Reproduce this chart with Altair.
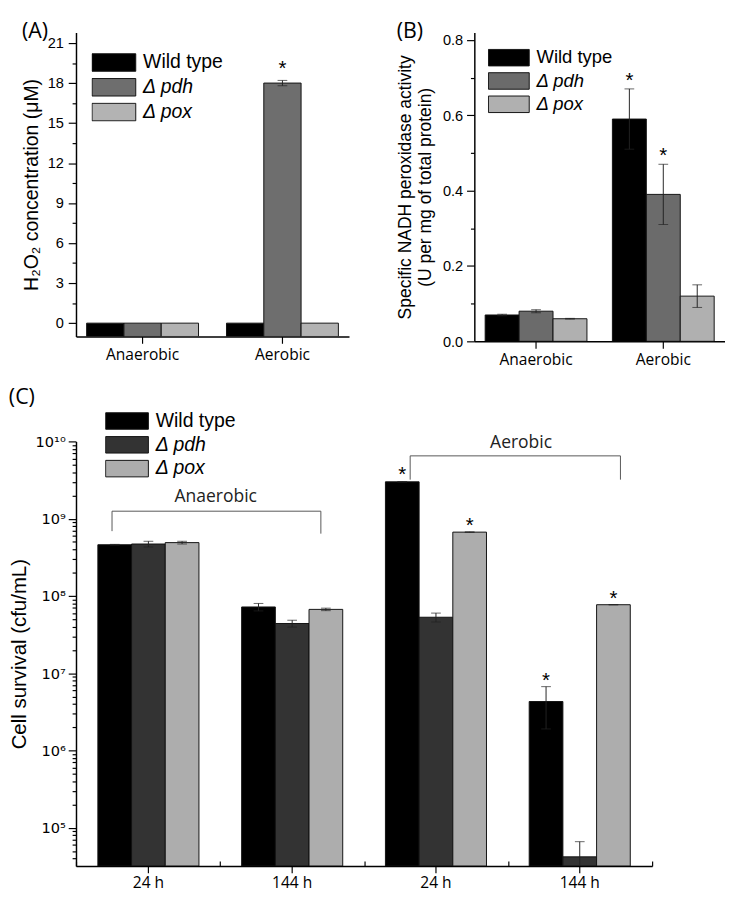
import altair as alt
import pandas as pd

# ---------------- data ----------------
strains = ["Wild type", "Δ pdh", "Δ pox"]
conditions = ["Anaerobic", "Aerobic"]

# Panel A: H2O2 concentration (µM); order per condition: WT, Δpdh, Δpox
h2o2_value = [0.0, 0.0, 0.0, 0.0, 18.0, 0.0]
h2o2_err = [0.0, 0.0, 0.0, 0.0, 0.2, 0.0]
h2o2_sig = ["", "", "", "", "*", ""]

# Panel B: specific NADH peroxidase activity
nadh_value = [0.07, 0.08, 0.06, 0.59, 0.39, 0.12]
nadh_err = [0.002, 0.004, 0.001, 0.08, 0.08, 0.03]
nadh_sig = ["", "", "", "*", "*", ""]

# Panel C: cell survival (cfu/mL)
c_groups = ["Anaerobic|24 h", "Anaerobic|144 h", "Aerobic|24 h", "Aerobic|144 h"]
cfu_value = [4.6e8, 4.7e8, 4.9e8, 7.2e7, 4.4e7, 6.7e7, 3.0e9, 5.3e7, 6.7e8, 4.3e6, 4.2e4, 7.7e7]
cfu_err = [0.05e8, 0.4e8, 0.2e8, 0.8e7, 0.45e7, 0.25e7, 0.03e9, 0.7e7, 0.05e8, 2.4e6, 2.4e4, 0.03e7]
cfu_sig = ["", "", "", "", "", "", "*", "", "*", "*", "", "*"]

# brackets in panel C (x in group units 0..4, y in cfu/mL)
bracket_label = ["Anaerobic", "Aerobic"]
bracket_x1 = [0.25, 2.32]
bracket_x2 = [1.70, 3.78]
bracket_y = [1.25e9, 6.5e9]
bracket_left_end = [6.9e8, 3.2e9]
bracket_right_end = [6.4e8, 3.2e9]
bracket_label_x = [0.97, 3.09]
bracket_label_y = [1.9e9, 9.4e9]

# tick values / labels
a_ticks = [0, 3, 6, 9, 12, 15, 18, 21]
b_ticks = [0.0, 0.2, 0.4, 0.6, 0.8]
c_ticks = [1e5, 1e6, 1e7, 1e8, 1e9, 1e10]
c_tick_labels = ["10⁵", "10⁶", "10⁷", "10⁸", "10⁹", "10¹⁰"]

a_colors = ["#000000", "#6e6e6e", "#b3b3b3"]
b_colors = ["#000000", "#6b6b6b", "#b0b0b0"]
c_colors = ["#000000", "#333333", "#adadad"]

A_DOMAIN = [-1.0, 21.8]
B_DOMAIN = [0.0, 0.82]
C_DOMAIN = [3.2e4, 1e10]

TICK_FONT = "Liberation Sans"
CAT_FONT = "Open Sans"


def make_df(groups, values, errs, sigs):
    rows = []
    for i, g in enumerate(groups):
        for j, s in enumerate(strains):
            k = i * 3 + j
            rows.append(dict(group=g, strain=s, value=values[k], err=errs[k],
                             lo=values[k] - errs[k], hi=values[k] + errs[k], sig=sigs[k]))
    return pd.DataFrame(rows)


def rect_path(ratio):
    return f"M-1,-{ratio}L1,-{ratio}L1,{ratio}L-1,{ratio}Z"


def legend(x, y, font_size, row_pad, w, h, clip):
    return alt.Legend(
        orient="none", legendX=x, legendY=y, title=None, padding=0,
        symbolType=rect_path(round(h / w, 3)), symbolSize=w * w,
        symbolStrokeColor="#111111", symbolStrokeWidth=1, symbolOpacity=1,
        labelFont=TICK_FONT, labelFontSize=font_size, labelColor="black",
        labelOffset=7, clipHeight=clip, rowPadding=row_pad,
        labelFontStyle=alt.ExprRef("datum.label == 'Wild type' ? 'normal' : 'italic'"),
    )


def build_layers(df, groups, colors, y_scale, y_axis, x_axis, lg, base, star_dy,
                 pad_inner, pad_outer, y_title):
    x = alt.X("group:N", sort=groups, axis=x_axis, title=None,
              scale=alt.Scale(paddingInner=pad_inner, paddingOuter=pad_outer))
    xo = alt.XOffset("strain:N", sort=strains)

    def yy(field):
        return alt.Y(field, scale=y_scale, axis=y_axis, title=y_title)

    bars = alt.Chart(df).mark_bar(stroke="#111111", strokeWidth=1, clip=True).encode(
        x=x, xOffset=xo, y=yy("value:Q"), y2=alt.datum(base),
        color=alt.Color("strain:N", sort=strains,
                        scale=alt.Scale(domain=strains, range=colors), legend=lg),
    )
    err_base = alt.Chart(df).transform_filter("datum.err > 0")
    rule = err_base.mark_rule(color="#222222", strokeWidth=1, clip=True).encode(
        x=x, xOffset=xo, y=yy("lo:Q"), y2="hi:Q")
    cap_hi = err_base.mark_tick(color="#222222", thickness=1, size=10, orient="horizontal").encode(
        x=x, xOffset=xo, y=yy("hi:Q"))
    cap_lo = err_base.transform_filter(f"datum.lo > {base}").mark_tick(
        color="#222222", thickness=1, size=10, orient="horizontal").encode(
        x=x, xOffset=xo, y=yy("lo:Q"))
    stars = alt.Chart(df).transform_filter("datum.sig != ''").mark_text(
        font=TICK_FONT, fontSize=21, baseline="alphabetic", dy=star_dy, color="black").encode(
        x=x, xOffset=xo, y=yy("hi:Q"), text="sig:N")
    return alt.layer(bars, rule, cap_hi, cap_lo, stars)


def y_axis_common(**kw):
    base = dict(labelFont=TICK_FONT, labelColor="black", tickColor="black", domainColor="black",
                domainWidth=1.5, tickWidth=1.2, titleFont=TICK_FONT, titleFontWeight="normal",
                titleColor="black", grid=False)
    base.update(kw)
    return alt.Axis(**base)


def x_axis_common(**kw):
    base = dict(labelFont=CAT_FONT, labelFontSize=16, labelColor="black", labelAngle=0,
                tickSize=7, tickColor="black", tickWidth=1.2, domainColor="black",
                domainWidth=1.5, labelPadding=4, grid=False)
    base.update(kw)
    return alt.Axis(**base)


def title(text, offset):
    return alt.TitleParams(text, anchor="start", frame="bounds", fontSize=22, font=CAT_FONT,
                           fontWeight="normal", color="black", offset=offset)


# ---------------- panel A ----------------
df_a = make_df(conditions, h2o2_value, h2o2_err, h2o2_sig)
a_all_ticks = [v / 2 for v in range(0, 43, 3)]
a_y_axis = y_axis_common(
    values=a_all_ticks,
    labelExpr="datum.value % 3 === 0 ? datum.label : ''",
    tickSize={"condition": {"test": "datum.value % 3 === 0", "value": 8}, "value": 4},
    labelFontSize=15, labelPadding=5, titleFontSize=20, titlePadding=6)
panel_a = build_layers(
    df_a, conditions, a_colors,
    alt.Scale(domain=A_DOMAIN, nice=False, zero=False), a_y_axis, x_axis_common(),
    legend(16, 21, 20, 5.5, 45, 18, 20), A_DOMAIN[0], -6, 0.2, 0.076,
    "H₂O₂ concentration (μM)",
).properties(width=281, height=313, title=title("(A)", -11))

# ---------------- panel B ----------------
df_b = make_df(conditions, nadh_value, nadh_err, nadh_sig)
b_all_ticks = [round(i * 0.1, 1) for i in range(0, 9)]
b_y_axis = y_axis_common(
    values=b_all_ticks,
    labelExpr="round(datum.value * 10) % 2 === 0 ? format(datum.value, '.1f') : ''",
    tickSize={"condition": {"test": "round(datum.value * 10) % 2 === 0", "value": 8}, "value": 4},
    labelFontSize=15, labelPadding=4, titleFontSize=18, titlePadding=8, titleLineHeight=21)
panel_b = build_layers(
    df_b, conditions, b_colors,
    alt.Scale(domain=B_DOMAIN, nice=False, zero=False), b_y_axis, x_axis_common(),
    legend(14, 16.5, 19, 4, 42, 17, 19), B_DOMAIN[0], -2, 0.2, 0.085,
    ["Specific NADH peroxidase activity", "(U per mg of total protein)"],
).properties(width=258, height=318, title=title("(B)", -11))

# ---------------- panel C ----------------
df_c = make_df(c_groups, cfu_value, cfu_err, cfu_sig)
c_all_ticks = list(c_ticks)
for e in range(4, 10):
    for m in range(2, 10):
        v = m * 10 ** e
        if C_DOMAIN[0] <= v <= C_DOMAIN[1]:
            c_all_ticks.append(float(v))
is_major = "abs(log(datum.value) / LN10 - round(log(datum.value) / LN10)) < 0.001"
label_list = "[" + ",".join(f"'{t}'" for t in c_tick_labels) + "]"
c_y_axis = y_axis_common(
    values=c_all_ticks,
    labelExpr=f"{is_major} ? {label_list}[round(log(datum.value) / LN10) - 5] : ''",
    tickSize={"condition": {"test": is_major, "value": 8}, "value": 4},
    labelFont="DejaVu Sans", labelFontSize=15, labelPadding=3, titleFontSize=21, titlePadding=6)
c_x_axis = x_axis_common(labelExpr="split(datum.label, '|')[1]", labelPadding=2)
c_y_scale = alt.Scale(type="log", domain=C_DOMAIN, nice=False)
C_TITLE = "Cell survival (cfu/mL)"
c_bars = build_layers(
    df_c, c_groups, c_colors, c_y_scale, c_y_axis, c_x_axis,
    legend(30, -31, 20, 4.5, 44, 17, 20), C_DOMAIN[0], 0, 0.297, 0.152, C_TITLE,
)

seg_rows = []
for i in range(len(bracket_label)):
    seg_rows.append(dict(x=bracket_x1[i], x2=bracket_x2[i], y=bracket_y[i], y2=bracket_y[i]))
    seg_rows.append(dict(x=bracket_x1[i], x2=bracket_x1[i], y=bracket_left_end[i], y2=bracket_y[i]))
    seg_rows.append(dict(x=bracket_x2[i], x2=bracket_x2[i], y=bracket_right_end[i], y2=bracket_y[i]))
df_seg = pd.DataFrame(seg_rows)
df_lab = pd.DataFrame(dict(label=bracket_label, x=bracket_label_x, y=bracket_label_y))

grp_scale = alt.Scale(domain=[0, 4], nice=False, zero=False)
C_HEIGHT = 437
minor_x_axis = alt.Axis(orient="top", offset=-C_HEIGHT, values=[0, 1, 2, 3, 4], labels=False,
                        domain=False, tickSize=5, tickColor="black", tickWidth=1.2,
                        grid=False, title=None)
brackets = alt.Chart(df_seg).mark_rule(color="#555555", strokeWidth=1).encode(
    x=alt.X("x:Q", scale=grp_scale, axis=minor_x_axis),
    x2="x2:Q",
    y=alt.Y("y:Q", scale=c_y_scale, axis=c_y_axis, title=C_TITLE),
    y2="y2:Q",
)
bracket_text = alt.Chart(df_lab).mark_text(font=CAT_FONT, fontSize=18, color="#222222",
                                            baseline="middle").encode(
    x=alt.X("x:Q", scale=grp_scale, axis=minor_x_axis),
    y=alt.Y("y:Q", scale=c_y_scale, axis=c_y_axis, title=C_TITLE),
    text="label:N",
)
panel_c = alt.layer(c_bars, alt.layer(brackets, bracket_text)).resolve_scale(
    x="independent").resolve_axis(x="independent").properties(
    width=593, height=C_HEIGHT, title=title("(C)", 2))

top = alt.hconcat(panel_a, panel_b, spacing=49).resolve_scale(color="independent", xOffset="independent")
chart = alt.vconcat(top, panel_c, spacing=20).resolve_scale(
    color="independent", xOffset="independent").properties(
    padding={"left": 0, "top": 0, "right": 0, "bottom": 0},
    background="white",
).configure_view(stroke=None)

chart.save("out.html", embed_options={"renderer": "svg", "actions": False})
